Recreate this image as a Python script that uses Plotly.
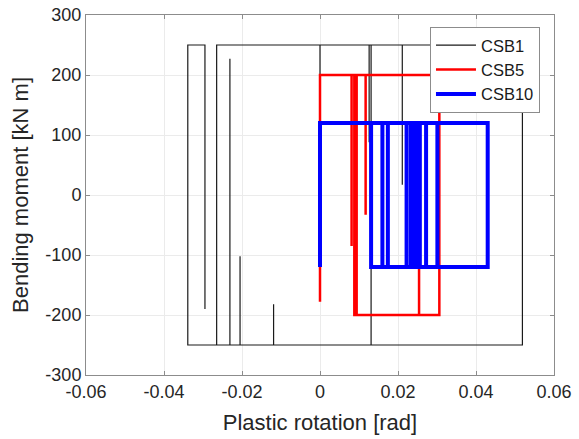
import plotly.graph_objects as go

# CSB1 path (plastic rotation [rad], bending moment [kN m])
rot_csb1 = [0, 0, 0.0126, 0.0126, 0.0126, 0.0131, 0.0131, -0.0119, -0.0119, -0.0119,
            -0.0205, -0.0205, -0.0205, -0.0231, -0.0231, -0.0231, -0.0265, -0.0265,
            0.0211, 0.0211, 0.0211, 0.0519, 0.0519, -0.0339, -0.0339, -0.0295, -0.0295]
mom_csb1 = [0, 250, 250, 88, 250, 250, -250, -250, -182, -250,
            -250, -102, -250, -250, 227, -250, -250, 250,
            250, 17, 250, 250, -250, -250, 250, 250, -190]

# CSB5 path
rot_csb5 = [0, 0, 0.0081, 0.0081, 0.0081, 0.0088, 0.0088, 0.0094, 0.0094, 0.0117,
            0.0117, 0.0117, 0.0306, 0.0306, 0.0254, 0.0254, 0.0254, 0.0088]
mom_csb5 = [-178, 200, 200, -85, 200, 200, -200, -200, 200, 200,
            -33, 200, 200, -200, -200, -55, -200, -200]

# CSB10 path
rot_csb10 = [0, 0, 0.0430, 0.0430, 0.0131, 0.0131, 0.0160, 0.0160, 0.0174, 0.0174,
             0.0222, 0.0222, 0.0233, 0.0233, 0.0241, 0.0241, 0.0246, 0.0246, 0.0251,
             0.0251, 0.0256, 0.0256, 0.0256, 0.0272, 0.0272, 0.0301, 0.0301]
mom_csb10 = [-120, 120, 120, -120, -120, 120, 120, -120, -120, 120,
             120, -120, -120, 120, 120, -120, -120, 120, 120,
             -120, -120, -103, 120, 120, -120, -120, 120]

x_ticks = [-0.06, -0.04, -0.02, 0, 0.02, 0.04, 0.06]
x_tick_labels = ["-0.06", "-0.04", "-0.02", "0", "0.02", "0.04", "0.06"]
y_ticks = [-300, -200, -100, 0, 100, 200, 300]
y_tick_labels = ["-300", "-200", "-100", "0", "100", "200", "300"]

fig = go.Figure()
fig.add_trace(go.Scatter(x=rot_csb1, y=mom_csb1, mode="lines", name="CSB1",
                         line=dict(color="#1a1a1a", width=1.2)))
fig.add_trace(go.Scatter(x=rot_csb5, y=mom_csb5, mode="lines", name="CSB5",
                         line=dict(color="#ff0000", width=2.5)))
fig.add_trace(go.Scatter(x=rot_csb10, y=mom_csb10, mode="lines", name="CSB10",
                         line=dict(color="#0000ff", width=4)))

axis_common = dict(showline=True, mirror="ticks", linecolor="#8c8c8c", linewidth=1,
                   ticks="inside", ticklen=4, tickcolor="#8c8c8c",
                   showgrid=True, gridcolor="#ebebeb", gridwidth=1,
                   zeroline=False, automargin=False,
                   tickfont=dict(size=18, color="#262626"))

fig.update_layout(
    width=579, height=439,
    margin=dict(l=86, r=25, t=15, b=64),
    paper_bgcolor="white", plot_bgcolor="white",
    font=dict(family="Liberation Sans, Arial, sans-serif", color="#262626"),
    xaxis=dict(range=[-0.06, 0.06], tickvals=x_ticks, ticktext=x_tick_labels,
               title=dict(text="Plastic rotation [rad]", font=dict(size=22), standoff=14),
               **axis_common),
    yaxis=dict(range=[-300, 300], tickvals=y_ticks, ticktext=y_tick_labels,
               title=dict(text="Bending moment [kN m]", font=dict(size=22), standoff=10),
               **axis_common),
    legend=dict(x=0.735, y=0.967, xanchor="left", yanchor="top",
                bgcolor="white", bordercolor="#8c8c8c", borderwidth=1,
                font=dict(size=16.5, color="#1a1a1a"), tracegroupgap=0,
                itemwidth=40),
    showlegend=True,
)

fig.write_html("out.html")
